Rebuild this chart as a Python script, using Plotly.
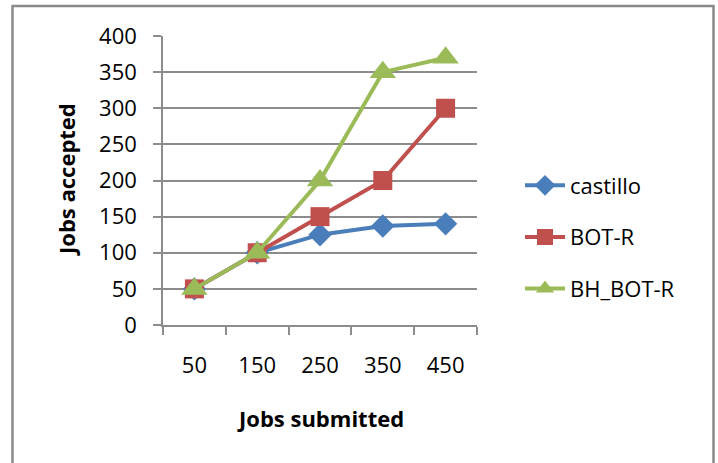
import plotly.graph_objects as go

categories = ["50", "150", "250", "350", "450"]
castillo = [50, 100, 125, 137, 140]
bot_r = [50, 100, 150, 200, 300]
bh_bot_r = [50, 100, 200, 350, 370]

series = [
    ("castillo", castillo, "#4A7EBB", "diamond", 18),
    ("BOT-R", bot_r, "#C0504D", "square", 19),
    ("BH_BOT-R", bh_bot_r, "#9BBB59", "triangle-up", 23),
]

FONT = "Open Sans"
GRID = "#8c8c8c"

fig = go.Figure()
for i, (name, vals, color, sym, size) in enumerate(series):
    fig.add_trace(go.Scatter(
        x=categories, y=vals, name=name, mode="lines+markers",
        line=dict(color=color, width=4),
        marker=dict(symbol=sym, size=size, color=color),
        legendgroup=f"g{i}",
    ))

L, R, T, B = 163, 241, 36, 138
W, H = 718, 463
pw, ph = W - L - R, H - T - B

def px(x):
    return (x - L) / pw

def py(y):
    return (H - B - y) / ph

fig.update_layout(
    width=W, height=H,
    margin=dict(l=L, r=R, t=T, b=B, pad=0),
    paper_bgcolor="white", plot_bgcolor="white",
    font=dict(family=FONT, size=22, color="black"),
    showlegend=True,
    legend=dict(
        x=px(520), y=py(237), xanchor="left", yanchor="middle",
        font=dict(family=FONT, size=22, color="black"),
        traceorder="grouped", tracegroupgap=20,
        itemwidth=40, bgcolor="rgba(0,0,0,0)",
    ),
    xaxis=dict(
        type="category", range=[-0.5, 4.5],
        showgrid=False, showline=True, linecolor=GRID, linewidth=1.5,
        ticks="outside", tickson="boundaries", ticklen=8, tickcolor=GRID,
        tickwidth=1.5, ticklabelstandoff=20,
        tickfont=dict(family=FONT, size=22, color="black"),
        zeroline=False, fixedrange=True,
    ),
    yaxis=dict(
        range=[0, 400], dtick=50, tick0=0,
        showgrid=True, gridcolor=GRID, gridwidth=1.5,
        showline=True, linecolor=GRID, linewidth=1.5,
        ticks="outside", ticklen=8, tickcolor=GRID, tickwidth=1.5,
        ticklabelstandoff=12,
        tickfont=dict(family=FONT, size=22, color="black"),
        zeroline=False, fixedrange=True,
    ),
    annotations=[
        dict(text="<b>Jobs submitted</b>", xref="paper", yref="paper",
             x=px(320), y=py(418), xanchor="center", yanchor="middle",
             showarrow=False, font=dict(family=FONT, size=22, color="black")),
        dict(text="<b>Jobs accepted</b>", xref="paper", yref="paper",
             x=px(66), y=py(180), xanchor="center", yanchor="middle",
             textangle=-90, showarrow=False,
             font=dict(family=FONT, size=22, color="black")),
    ],
    shapes=[
        dict(type="rect", xref="paper", yref="paper",
             x0=px(12.5), x1=px(713.5), y0=py(480), y1=py(6),
             line=dict(color="#8a8a8a", width=2.5), fillcolor="rgba(0,0,0,0)",
             layer="below"),
    ],
)

fig.write_html("out.html")
